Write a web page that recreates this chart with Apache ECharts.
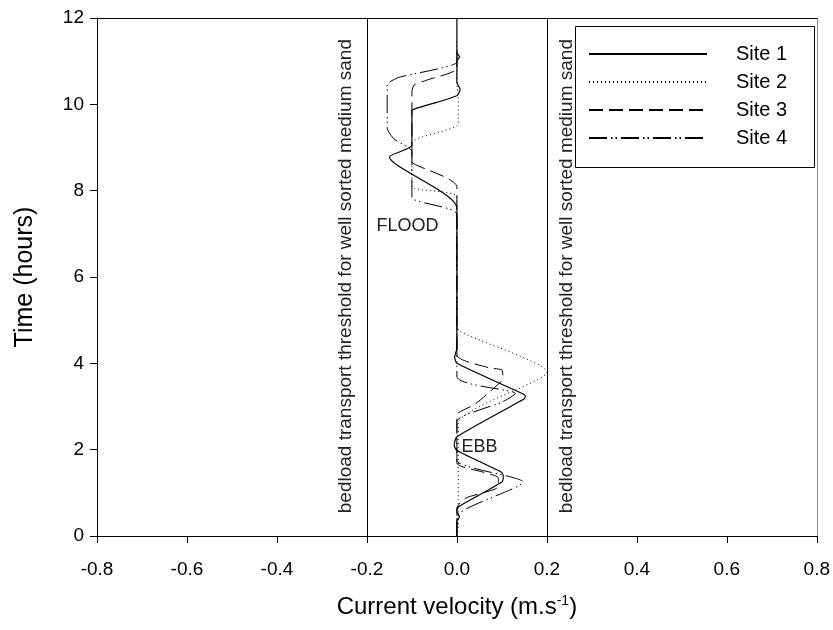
<!DOCTYPE html>
<html>
<head>
<meta charset="utf-8">
<script src="https://cdn.jsdelivr.net/npm/echarts@6/dist/echarts.min.js"></script>
<style>
  html, body { margin: 0; padding: 0; background: #fff; }
  #chart { width: 833px; height: 630px; }
</style>
</head>
<body>
<div id="chart"></div>
<script>
// Current velocity (m/s) against time (hours) over one tidal cycle, per site.
// Each point is [velocity, time].
const site1 = [
  [0, 0], [0, 0.35], [0.006, 0.45], [0, 0.55], [0.003, 0.67], [0.1, 1.25], [0.103, 1.38],
  [0.1, 1.47], [0.09, 1.53], [0, 1.98], [-0.006, 2.1], [0, 2.3], [0.15, 3.18], [0.152, 3.25],
  [0.145, 3.3], [0, 4.0], [-0.005, 4.15], [0, 4.35], [0, 7.6], [-0.15, 8.78], [-0.1, 9.05],
  [-0.1, 9.85], [-0.092, 9.9], [0, 10.2], [0.007, 10.35], [0, 10.5], [0, 11.0], [0.006, 11.1],
  [0, 11.2], [0, 12]
];
const site2 = [
  [0, 0], [0.003, 0.2], [0.003, 2.6], [0.2, 3.8], [0.005, 4.75], [0, 5.0], [0, 7.85],
  [-0.1, 8.1], [-0.1, 9.1], [0.003, 9.55], [0.003, 10.25], [0, 10.4], [0, 11.5]
];
const site3 = [
  [0, 0], [0, 0.65], [0.02, 0.88], [0.091, 1.13], [0.092, 1.35], [0.058, 1.48], [0, 1.69],
  [0, 2.8], [0.04, 3.05], [0.1, 3.6], [0.102, 3.75], [0.1, 3.85], [0.07, 3.9], [0, 4.2],
  [0, 8.08], [-0.097, 8.63], [-0.1, 8.75], [-0.1, 10.3], [-0.095, 10.45], [-0.067, 10.56],
  [0, 10.83], [0, 11.3]
];
const site4 = [
  [0, 0], [0, 0.45], [0.147, 1.25], [0, 1.75], [0, 2.65], [0.1, 3.1], [0.13, 3.3], [0, 3.7],
  [0, 7.45], [-0.1, 7.85], [-0.1, 8.9], [-0.14, 9.2], [-0.155, 9.45], [-0.155, 10.45],
  [-0.13, 10.62], [0, 10.98], [0, 11.3]
];

const siteNames = ['Site 1', 'Site 2', 'Site 3', 'Site 4'];
const siteData = [site1, site2, site3, site4];
const siteDash = ['solid', [1, 3], [14, 6], [18, 4, 1.5, 3, 1.5, 4]];

// Bedload transport threshold (m/s) for well sorted medium sand, both directions
const thresholds = [-0.2, 0.2];
const thresholdText = 'bedload transport threshold for well sorted medium sand';
// Annotation anchors [velocity, time]
const floodLabelAt = [-0.11, 7.18];
const ebbLabelAt = [0.05, 2.06];
const thresholdLabelAt = [[-0.247, 6.02], [0.244, 6.02]];

const FONT = '"Liberation Sans", Arial, sans-serif';

const chart = echarts.init(document.getElementById('chart'), null, { renderer: 'canvas' });

const series = siteNames.map((name, i) => ({
  name: name,
  type: 'line',
  data: siteData[i],
  symbol: 'none',
  showSymbol: false,
  smooth: 0.2,
  animation: false,
  z: 3,
  lineStyle: { color: '#000', width: i === 0 ? 1.2 : 1, type: siteDash[i] },
  itemStyle: { color: '#000' }
}));

// Threshold lines and text annotations ride on the first series
series[0].markLine = {
  silent: true,
  symbol: 'none',
  animation: false,
  label: { show: false },
  lineStyle: { color: '#000', width: 1, type: 'solid' },
  data: thresholds.map(v => ({ xAxis: v }))
};
series[0].markPoint = {
  silent: true,
  animation: false,
  symbol: 'circle',
  symbolSize: 0,
  label: { show: true, position: 'inside', color: '#222', fontFamily: FONT },
  data: [
    { coord: floodLabelAt, label: { formatter: 'FLOOD', fontSize: 18 } },
    { coord: ebbLabelAt, label: { formatter: 'EBB', fontSize: 18 } },
    { coord: thresholdLabelAt[0], label: { formatter: thresholdText, fontSize: 19, rotate: 90 } },
    { coord: thresholdLabelAt[1], label: { formatter: thresholdText, fontSize: 19, rotate: 90 } }
  ]
};

const option = {
  backgroundColor: '#fff',
  animation: false,
  textStyle: { fontFamily: FONT },
  grid: { left: 97, right: 16, top: 18, bottom: 94, containLabel: false },
  legend: {
    orient: 'vertical',
    left: 588,
    top: 44,
    padding: 0,
    itemWidth: 118,
    itemHeight: 14,
    itemGap: 8,
    selectedMode: false,
    data: siteNames,
    itemStyle: { color: 'rgba(0,0,0,0)', borderWidth: 0, opacity: 0 },
    textStyle: { fontSize: 20, color: '#000', fontFamily: FONT, padding: [0, 0, 0, 24] }
  },
  graphic: [{
    type: 'rect',
    left: 573, top: 24,
    shape: { width: 239, height: 141 },
    style: { fill: null, stroke: '#000', lineWidth: 1 },
    z: 1
  }],
  xAxis: [{
    type: 'value',
    min: -0.8, max: 0.8, interval: 0.2,
    position: 'bottom',
    name: 'Current velocity (m.s{sup|-1})',
    nameLocation: 'middle',
    nameGap: 58,
    nameTextStyle: {
      fontSize: 24, color: '#000', fontFamily: FONT,
      rich: { sup: { fontSize: 14, verticalAlign: 'top', padding: [0, 0, 12, 0], fontFamily: FONT, color: '#000' } }
    },
    axisLine: { show: true, onZero: false, lineStyle: { color: '#000', width: 1 } },
    axisTick: { show: true, inside: false, length: 7, lineStyle: { color: '#000' } },
    axisLabel: { fontSize: 19, color: '#000', margin: 24, formatter: v => v.toFixed(1) },
    splitLine: { show: false }
  }, {
    type: 'value',
    min: -0.8, max: 0.8,
    position: 'top',
    axisLine: { show: true, onZero: false, lineStyle: { color: '#000', width: 1 } },
    axisTick: { show: false }, axisLabel: { show: false }, splitLine: { show: false }
  }],
  yAxis: [{
    type: 'value',
    min: 0, max: 12, interval: 2,
    position: 'left',
    name: 'Time (hours)',
    nameLocation: 'middle',
    nameGap: 59,
    nameTextStyle: { fontSize: 25, color: '#000', fontFamily: FONT },
    axisLine: { show: true, onZero: false, lineStyle: { color: '#000', width: 1 } },
    axisTick: { show: true, inside: false, length: 7, lineStyle: { color: '#000' } },
    axisLabel: { fontSize: 19, color: '#000', margin: 13 },
    splitLine: { show: false }
  }, {
    type: 'value',
    min: 0, max: 12,
    position: 'right',
    axisLine: { show: true, onZero: false, lineStyle: { color: '#888', width: 1 } },
    axisTick: { show: false }, axisLabel: { show: false }, splitLine: { show: false }
  }],
  series: series
};

chart.setOption(option);
</script>
</body>
</html>
